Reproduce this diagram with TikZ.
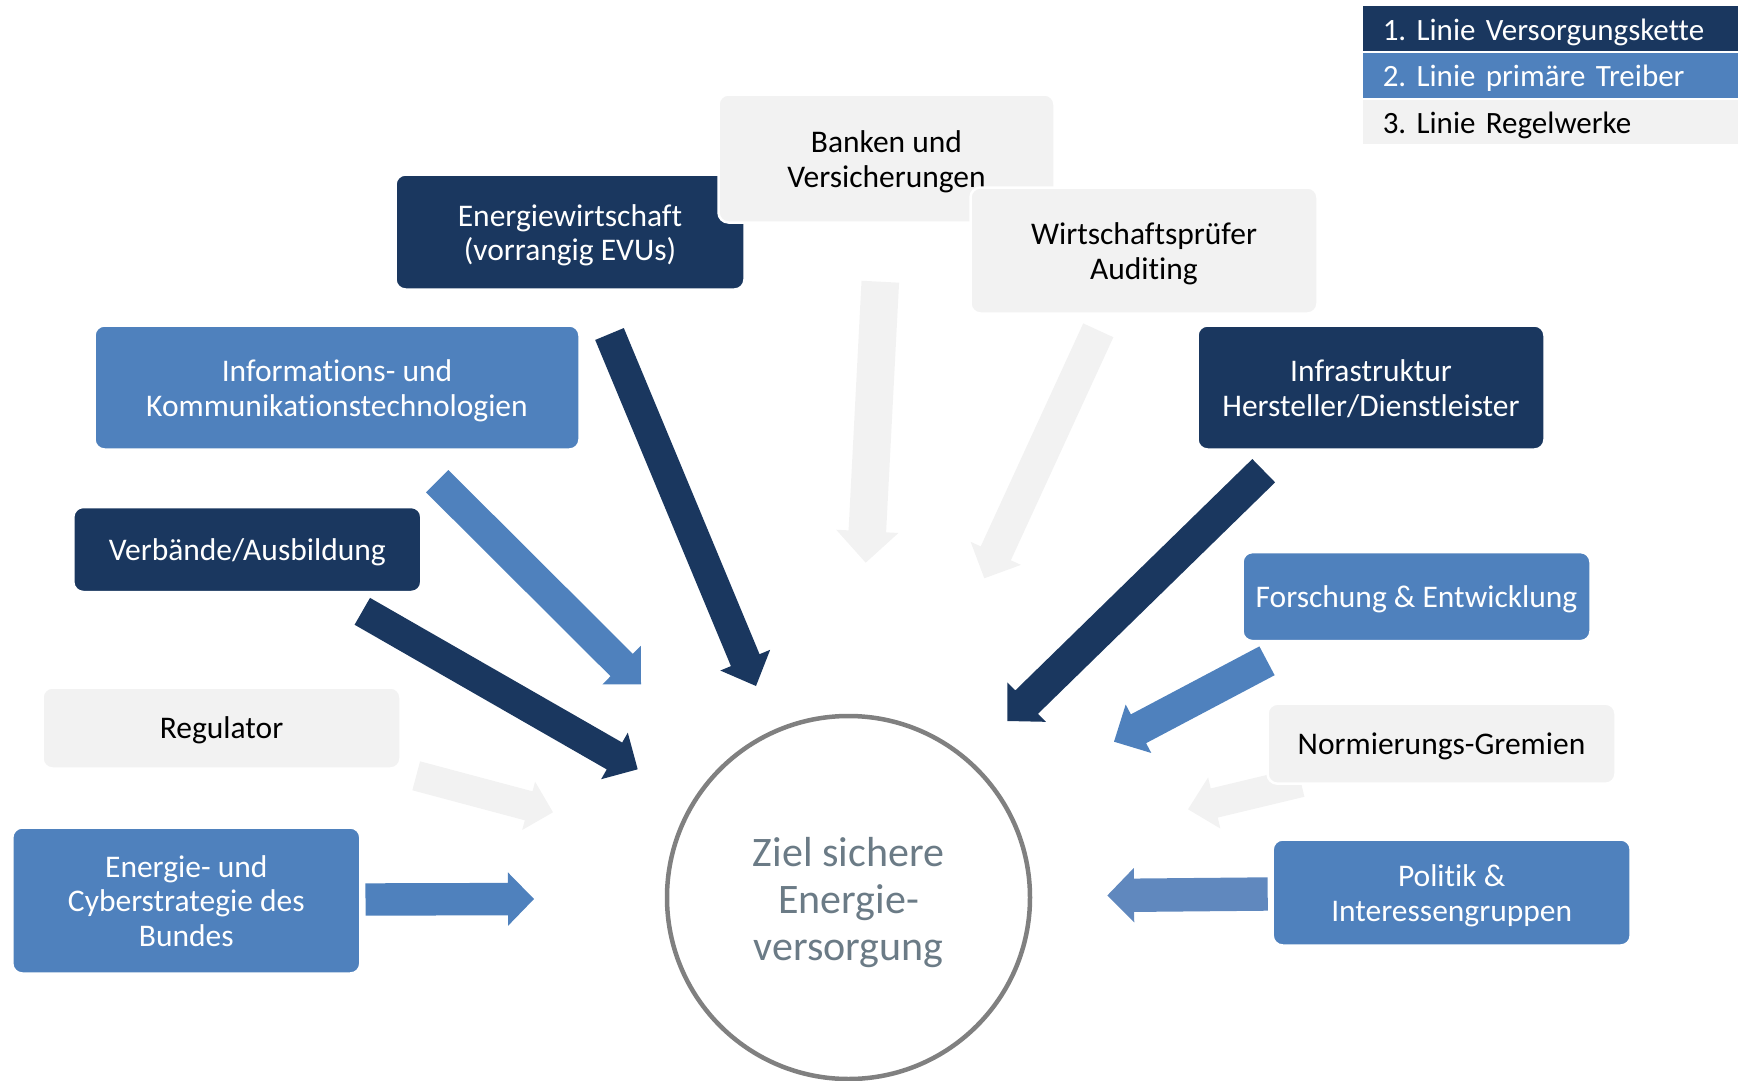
\documentclass[tikz,border=0pt]{standalone}
\usepackage{fontspec}
\setmainfont{Carlito}[Ligatures=NoCommon]
\usetikzlibrary{calc}
\definecolor{navy}{HTML}{1A375F}
\definecolor{mblue}{HTML}{4F81BD}
\definecolor{pblue}{HTML}{6088BE}
\definecolor{lgray}{HTML}{F2F2F2}
\definecolor{cgray}{HTML}{808080}
\definecolor{ctext}{HTML}{6B7B86}
\frenchspacing
\newcommand{\topstrut}[1]{\rule[-0.3\baselineskip]{0pt}{\dimexpr\baselineskip+#1\relax}}
\newcommand{\bs}{\topstrut{9pt}}
% #1 tail, #2 tip, #3 half shaft width, #4 half head width, #5 head length, #6 colour
\newcommand{\blockarr}[6]{%
  \coordinate (#1h) at ($(#2)!#5pt!(#1)$);
  \fill[#6] ($(#1)!#3pt!90:(#2)$) -- ($(#1h)!#3pt!90:(#2)$) -- ($(#1h)!#4pt!90:(#2)$) -- (#2)
    -- ($(#1h)!#4pt!-90:(#2)$) -- ($(#1h)!#3pt!-90:(#2)$) -- ($(#1)!#3pt!-90:(#2)$) -- cycle;}
\begin{document}
\begin{tikzpicture}[x=1pt,y=-1pt,
  box/.style={rectangle, rounded corners=10pt, draw=white, line width=2.5pt, inner sep=0pt,
    align=center, font=\fontsize{31.5}{34.5}\selectfont},
  sbox/.style={box, execute at begin node=\topstrut{8pt}, execute at end node=\strut},
  mbox/.style={box},
  dbox/.style={fill=navy, text=white},
  bbox/.style={fill=mblue, text=white},
  gbox/.style={fill=lgray, text=black},
  legrow/.style={rectangle, draw=white, line width=1.5pt, anchor=north west, minimum height=46pt,
    text width=340pt, inner xsep=21pt, inner ysep=0pt, align=left,
    font=\fontsize{31}{34}\selectfont, execute at begin node=\topstrut{9pt}},
  goal/.style={circle, draw=cgray, line width=4.5pt, fill=white, minimum size=363pt, inner sep=0pt,
    align=center, text=ctext, font=\fontsize{42}{46.7}\selectfont}
]
\useasboundingbox (0,0) rectangle (1738,1081);

% arrows (drawn below the boxes)
\coordinate (a1s) at (609.5,334);   \coordinate (a1e) at (756,686);
\coordinate (a2s) at (437.2,481.2); \coordinate (a2e) at (641,684.3);
\coordinate (a3s) at (362.3,611.3); \coordinate (a3e) at (637.7,769.3);
\coordinate (a4s) at (416.2,775.8); \coordinate (a4e) at (553,812.3);
\coordinate (a5s) at (365.5,899.5); \coordinate (a5e) at (534,899);
\coordinate (a6s) at (880.3,281.7); \coordinate (a6e) at (865.7,562.7);
\coordinate (a7s) at (1098.3,330.3);\coordinate (a7e) at (984.3,578.3);
\coordinate (a8s) at (1263.7,470.7);\coordinate (a8e) at (1007.3,721);
\coordinate (a9s) at (1267,660.8);  \coordinate (a9e) at (1114,741.7);
\coordinate (a10s) at (1300.9,782.2);\coordinate (a10e) at (1188,809.3);
\coordinate (a11s) at (1267.7,894); \coordinate (a11e) at (1107.3,895.5);

\blockarr{a1s}{a1e}{15.5}{27}{28}{navy}
\blockarr{a2s}{a2e}{15.8}{27.2}{27.3}{mblue}
\blockarr{a3s}{a3e}{15.5}{26.8}{26.8}{navy}
\blockarr{a4s}{a4e}{15}{25}{25.2}{lgray}
\blockarr{a5s}{a5e}{16.2}{26.7}{26}{mblue}
\blockarr{a6s}{a6e}{18.8}{31.2}{31.4}{lgray}
\blockarr{a7s}{a7e}{16.6}{27.7}{27.5}{lgray}
\blockarr{a8s}{a8e}{16.3}{27.5}{27}{navy}
\blockarr{a9s}{a9e}{16.3}{27.4}{27.7}{mblue}
\blockarr{a10s}{a10e}{15}{26.3}{27}{lgray}
\blockarr{a11s}{a11e}{16.7}{27.2}{26.7}{pblue}

% boxes
\node[mbox, dbox, minimum width=349pt, minimum height=115pt] (energie) at (570,232) {\bs Energiewirtschaft\\(vorrangig EVUs)\strut};
\node[mbox, gbox, minimum width=336pt, minimum height=128pt] (banken) at (886.5,158.5) {\bs Banken und\\Versicherungen\strut};
\node[mbox, gbox, minimum width=347pt, minimum height=126pt] (wirtschaft) at (1144,250.5) {\bs Wirtschaftsprüfer\\Auditing\strut};
\node[mbox, bbox, minimum width=485pt, minimum height=124pt] (ikt) at (337,387.5) {\bs Informations- und\\Kommunikationstechnologien\strut};
\node[mbox, dbox, minimum width=347pt, minimum height=124pt] (infra) at (1371,387.5) {\bs Infrastruktur\\Hersteller/Dienstleister\strut};
\node[sbox, dbox, minimum width=348pt, minimum height=85pt] (verband) at (247.3,549.5) {Verbände/Ausbildung};
\node[sbox, bbox, minimum width=348pt, minimum height=89pt] (forschung) at (1416.5,596.6) {Forschung \& Entwicklung};
\node[sbox, gbox, minimum width=358pt, minimum height=81pt] (regulator) at (221.5,728) {Regulator};
\node[sbox, gbox, minimum width=348pt, minimum height=80pt] (normierung) at (1441.5,743.7) {Normierungs-Gremien};
\node[mbox, bbox, minimum width=348pt, minimum height=146pt] (cyber) at (186.3,900.5) {\bs Energie- und\\Cyberstrategie des\\Bundes\strut};
\node[mbox, bbox, minimum width=358pt, minimum height=106pt] (politik) at (1451.7,892.5) {\bs Politik \&\\Interessengruppen\strut};

% goal circle
\node[goal] (ziel) at (848.5,897.5) {\topstrut{13pt}Ziel sichere\\Energie-\\versorgung\strut};

% legend
\node[legrow, fill=navy, text=white] (leg1) at (1361,5) {1. Linie Versorgungskette};
\node[legrow, fill=mblue, text=white] (leg2) at (1361,51.5) {2. Linie primäre Treiber};
\node[legrow, fill=lgray, text=black] (leg3) at (1361,98) {3. Linie Regelwerke};
\end{tikzpicture}
\end{document}
